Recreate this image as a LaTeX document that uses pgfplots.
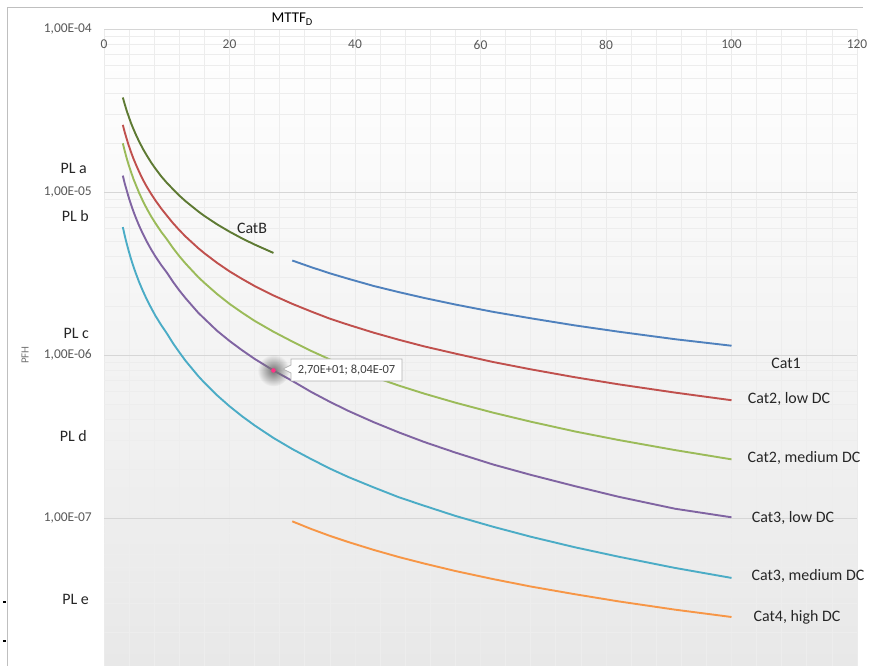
\documentclass[border=0pt]{standalone}
\usepackage{fontspec}
\setmainfont{Carlito}
\usepackage{pgfplots}
\pgfplotsset{compat=1.18}
\usetikzlibrary{fadings}
\definecolor{cB}{HTML}{5E7A33}
\definecolor{cOne}{HTML}{4F81BD}
\definecolor{cTwoL}{HTML}{C0504D}
\definecolor{cTwoM}{HTML}{9BBB59}
\definecolor{cThreeL}{HTML}{8064A2}
\definecolor{cThreeM}{HTML}{4BACC6}
\definecolor{cFour}{HTML}{F79646}
\tikzfading[name=glow, inner color=transparent!0, outer color=transparent!100]
\begin{document}
\begin{tikzpicture}[x=1bp,y=1bp]
\path[use as bounding box] (0,0) rectangle (874,666);
\draw[black!25, line width=0.8bp] (7,0) -- (7,659) -- (863,659);
\draw[black, line width=1.2bp] (3,64) -- (6,64);
\draw[black, line width=1.2bp] (3,25) -- (6,25);
\begin{axis}[at={(104bp,0bp)}, anchor=south west, scale only axis,
  width=753bp, height=637bp,
  xmin=0, xmax=120, ymode=log, ymin=1.236e-8, ymax=1e-4,
  axis line style={draw=none},
  xtick={0,20,40,60,80,100,120},
  xticklabels={0,20,40,60,80,100,120},
  xticklabel pos=upper,
  xticklabel style={anchor=north, inner sep=0pt, yshift=-11bp, font=\fontsize{13.5}{16}\selectfont, text=black!65},
  minor x tick num=4,
  ytick={1e-7,1e-6,1e-5,1e-4},
  yticklabels={{1,00E-07},{1,00E-06},{1,00E-05},{1,00E-04}},
  yticklabel style={anchor=east, inner sep=0pt, xshift=-12bp, font=\fontsize{13.5}{16}\selectfont, text=black!65},
  minor ytick={2e-8,3e-8,4e-8,5e-8,6e-8,7e-8,8e-8,9e-8,2e-7,3e-7,4e-7,5e-7,6e-7,7e-7,8e-7,9e-7,2e-6,3e-6,4e-6,5e-6,6e-6,7e-6,8e-6,9e-6,2e-5,3e-5,4e-5,5e-5,6e-5,7e-5,8e-5,9e-5},
  major tick length=0pt, minor tick length=0pt,
  grid=both,
  major grid style={black!16, line width=0.8bp},
  minor grid style={black!7, line width=0.8bp},
  major x grid style={black!8, line width=0.8bp},
  axis background/.style={shade, top color=white, middle color=black!2, bottom color=black!9},
  clip=false,
]
\addplot[cB, line width=1.9bp] coordinates {(3,3.80e-5) (3.3,3.46e-5) (3.6,3.17e-5) (3.9,2.93e-5) (4.3,2.65e-5) (4.7,2.43e-5) (5.1,2.24e-5) (5.6,2.04e-5) (6.2,1.84e-5) (6.8,1.68e-5) (7.5,1.52e-5) (8.2,1.39e-5) (9.1,1.25e-5) (10,1.14e-5) (11,1.04e-5) (12,9.51e-6) (13,8.78e-6) (15,7.61e-6) (16,7.13e-6) (18,6.34e-6) (20,5.71e-6) (22,5.19e-6) (24,4.76e-6) (27,4.23e-6)};
\addplot[cOne, line width=1.9bp] coordinates {(30,3.80e-6) (33,3.46e-6) (36,3.17e-6) (39,2.93e-6) (43,2.65e-6) (47,2.43e-6) (51,2.24e-6) (56,2.04e-6) (62,1.84e-6) (68,1.68e-6) (75,1.52e-6) (82,1.39e-6) (91,1.25e-6) (100,1.14e-6)};
\addplot[cTwoL, line width=1.9bp] coordinates {(3,2.58e-5) (3.3,2.33e-5) (3.6,2.13e-5) (3.9,1.95e-5) (4.3,1.76e-5) (4.7,1.60e-5) (5.1,1.47e-5) (5.6,1.33e-5) (6.2,1.19e-5) (6.8,1.08e-5) (7.5,9.75e-6) (8.2,8.87e-6) (9.1,7.94e-6) (10,7.18e-6) (11,6.44e-6) (12,5.84e-6) (13,5.33e-6) (15,4.53e-6) (16,4.21e-6) (18,3.68e-6) (20,3.26e-6) (22,2.93e-6) (24,2.65e-6) (27,2.32e-6) (30,2.06e-6) (33,1.85e-6) (36,1.67e-6) (39,1.53e-6) (43,1.37e-6) (47,1.24e-6) (51,1.13e-6) (56,1.02e-6) (62,9.06e-7) (68,8.17e-7) (75,7.31e-7) (82,6.61e-7) (91,5.88e-7) (100,5.28e-7)};
\addplot[cTwoM, line width=1.9bp] coordinates {(3,1.99e-5) (3.3,1.79e-5) (3.6,1.62e-5) (3.9,1.48e-5) (4.3,1.33e-5) (4.7,1.20e-5) (5.1,1.10e-5) (5.6,9.87e-6) (6.2,8.80e-6) (6.8,7.93e-6) (7.5,7.10e-6) (8.2,6.43e-6) (9.1,5.71e-6) (10,5.14e-6) (11,4.53e-6) (12,4.04e-6) (13,3.64e-6) (15,3.01e-6) (16,2.77e-6) (18,2.37e-6) (20,2.06e-6) (22,1.82e-6) (24,1.62e-6) (27,1.39e-6) (30,1.21e-6) (33,1.06e-6) (36,9.39e-7) (39,8.40e-7) (43,7.34e-7) (47,6.49e-7) (51,5.80e-7) (56,5.10e-7) (62,4.43e-7) (68,3.90e-7) (75,3.40e-7) (82,3.01e-7) (91,2.61e-7) (100,2.29e-7)};
\addplot[cThreeL, line width=1.9bp] coordinates {(3,1.26e-5) (3.3,1.13e-5) (3.6,1.03e-5) (3.9,9.37e-6) (4.3,8.39e-6) (4.7,7.58e-6) (5.1,6.91e-6) (5.6,6.21e-6) (6.2,5.53e-6) (6.8,4.98e-6) (7.5,4.45e-6) (8.2,4.02e-6) (9.1,3.57e-6) (10,3.21e-6) (11,2.81e-6) (12,2.49e-6) (13,2.23e-6) (15,1.82e-6) (16,1.67e-6) (18,1.41e-6) (20,1.22e-6) (22,1.07e-6) (24,9.47e-7) (27,8.04e-7) (30,6.94e-7) (33,5.94e-7) (36,5.16e-7) (39,4.53e-7) (43,3.87e-7) (47,3.35e-7) (51,2.93e-7) (56,2.52e-7) (62,2.13e-7) (68,1.84e-7) (75,1.57e-7) (82,1.35e-7) (91,1.14e-7) (100,1.01e-7)};
\addplot[cThreeM, line width=1.9bp] coordinates {(3,6.09e-6) (3.3,5.41e-6) (3.6,4.86e-6) (3.9,4.40e-6) (4.3,3.89e-6) (4.7,3.48e-6) (5.1,3.15e-6) (5.6,2.80e-6) (6.2,2.47e-6) (6.8,2.20e-6) (7.5,1.95e-6) (8.2,1.74e-6) (9.1,1.53e-6) (10,1.36e-6) (11,1.18e-6) (12,1.04e-6) (13,9.21e-7) (15,7.44e-7) (16,6.76e-7) (18,5.67e-7) (20,4.85e-7) (22,4.21e-7) (24,3.70e-7) (27,3.10e-7) (30,2.65e-7) (33,2.30e-7) (36,2.01e-7) (39,1.78e-7) (43,1.54e-7) (47,1.34e-7) (51,1.19e-7) (56,1.03e-7) (62,8.84e-8) (68,7.68e-8) (75,6.62e-8) (82,5.79e-8) (91,4.94e-8) (100,4.29e-8)};
\addplot[cFour, line width=1.9bp] coordinates {(30,9.54e-8) (33,8.57e-8) (36,7.77e-8) (39,7.11e-8) (43,6.37e-8) (47,5.76e-8) (51,5.26e-8) (56,4.73e-8) (62,4.22e-8) (68,3.80e-8) (75,3.41e-8) (82,3.08e-8) (91,2.74e-8) (100,2.47e-8)};
\fill[black!55, path fading=glow] (axis cs:27,8.04e-7) circle[radius=16bp];
\addplot[only marks, mark=*, mark size=2bp, color=red!60!magenta!80] coordinates {(27,8.04e-7)};
\end{axis}
% tooltip
\filldraw[fill=white, draw=black!30, line width=0.7bp] (291,285) -- (402,285) -- (402,307) -- (291,307) -- (291,301) -- (283,297) -- (291,293) -- cycle;
\node[text=black!75, font=\fontsize{12.5}{15}\selectfont] at (346.5,296) {2,70E+01; 8,04E-07};
% axis titles
\node[anchor=base west, font=\fontsize{15}{18}\selectfont] at (268,643) {MTTF\textsubscript{D}};
\node[rotate=90, text=black!55, font=\fontsize{11}{13}\selectfont] at (25,311) {PFH};
% PL labels
\begin{scope}[every node/.style={anchor=east, inner sep=0pt, text=black!85, font=\fontsize{16}{19}\selectfont}]
\node at (87,498) {PL a};
\node at (89,450) {PL b};
\node at (89,333) {PL c};
\node at (87,230) {PL d};
\node at (89,67) {PL e};
\end{scope}
% curve labels
\begin{scope}[every node/.style={inner sep=0pt, text=black!85, font=\fontsize{16}{19}\selectfont}]
\node at (252,438) {CatB};
\node at (786,303) {Cat1};
\node at (789,267) {Cat2, low DC};
\node at (804,208) {Cat2, medium DC};
\node at (793,148) {Cat3, low DC};
\node at (808,90) {Cat3, medium DC};
\node at (797,49) {Cat4, high DC};
\end{scope}
\end{tikzpicture}
\end{document}
